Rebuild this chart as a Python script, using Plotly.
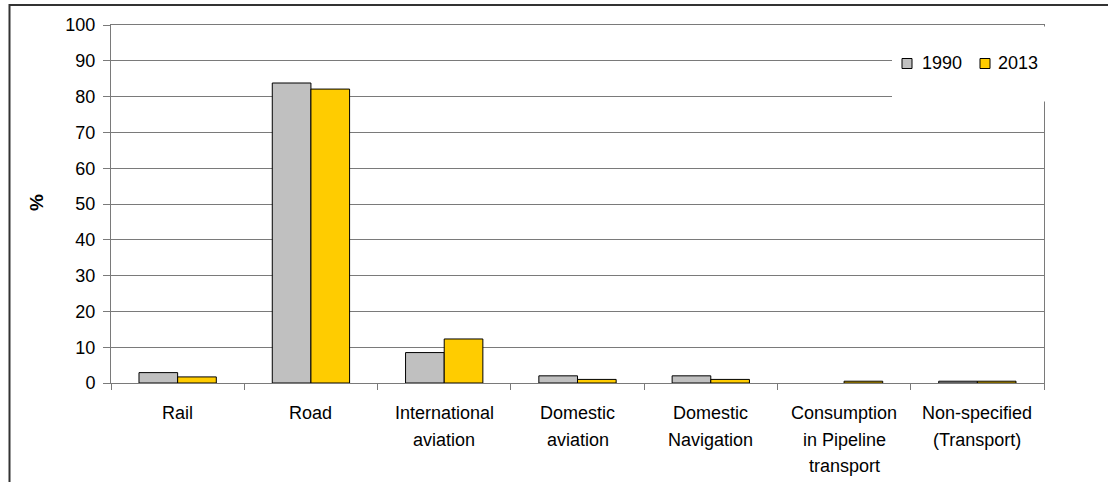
import plotly.graph_objects as go

categories = ["Rail", "Road", "International aviation", "Domestic aviation",
              "Domestic Navigation", "Consumption in Pipeline transport",
              "Non-specified (Transport)"]
label_lines = [["Rail"], ["Road"], ["International", "aviation"], ["Domestic", "aviation"],
               ["Domestic", "Navigation"], ["Consumption", "in Pipeline", "transport"],
               ["Non-specified", "(Transport)"]]
series_names = ["1990", "2013"]
values_1990 = [2.9, 83.8, 8.5, 2.0, 2.0, None, 0.5]
values_2013 = [1.7, 82.1, 12.3, 1.0, 1.0, 0.5, 0.5]
series_colors = ["#C0C0C0", "#FFCC00"]
y_ticks = list(range(0, 101, 10))

W, H = 1108, 482
L, R, T, B = 111, 1044, 25, 383
PW, PH = R - L, B - T

def px(x):
    return (x - L) / PW

def py(y):
    return (B - y) / PH

FONT = "Liberation Sans, Arial, sans-serif"
GRID = "#7a7a7a"

fig = go.Figure()
for name, vals, col in zip(series_names, [values_1990, values_2013], series_colors):
    fig.add_trace(go.Bar(x=categories, y=vals, name=name, marker_color=col,
                         marker_line=dict(color="black", width=1), showlegend=False))

fig.update_layout(
    width=W, height=H,
    margin=dict(l=L, r=W - R, t=T, b=H - B),
    paper_bgcolor="white", plot_bgcolor="white",
    barmode="group", bargap=0.42, bargroupgap=0,
    font=dict(family=FONT, size=18, color="black"),
    showlegend=False,
)
fig.update_yaxes(range=[0, 100], tickvals=y_ticks, showgrid=True, gridcolor=GRID, gridwidth=1,
                 showline=True, linecolor=GRID, linewidth=1, mirror=True,
                 ticks="outside", ticklen=7, tickcolor=GRID,
                 tickfont=dict(size=18, color="black"), ticklabelstandoff=4, zeroline=False)
fig.update_xaxes(showline=True, linecolor=GRID, linewidth=1, mirror=True,
                 ticks="outside", ticklen=6, tickcolor=GRID, tickson="boundaries",
                 showticklabels=False, showgrid=False)

# category labels
for cat, lines in zip(categories, label_lines):
    for i, line in enumerate(lines):
        fig.add_annotation(x=cat, xref="x", y=0, yref="paper", text=line, showarrow=False,
                           yanchor="middle", xanchor="center", yshift=-(30 + 26.7 * i),
                           font=dict(size=18, color="black", family=FONT))

# y title
fig.add_annotation(x=px(36), y=py(203), xref="paper", yref="paper", text="<b>%</b>",
                   textangle=-90, showarrow=False, xanchor="center", yanchor="middle",
                   font=dict(size=19, color="black", family=FONT))

# outer border
fig.add_shape(type="path", xref="paper", yref="paper",
              path=f"M {px(9.5)},{py(490)} L {px(9.5)},{py(5)} L {px(1115)},{py(5)}",
              line=dict(color="#333333", width=2), layer="above")

# legend background
fig.add_shape(type="rect", xref="paper", yref="paper",
              x0=px(892), x1=px(1047), y0=py(101.5), y1=py(26.5),
              fillcolor="white", line=dict(width=0), layer="above")

# legend entries
leg_sq_x = [902, 980]
leg_tx_x = [920, 996]
for name, col, sx, tx in zip(series_names, series_colors, leg_sq_x, leg_tx_x):
    fig.add_shape(type="rect", xref="paper", yref="paper",
                  x0=px(sx), x1=px(sx + 10), y0=py(68.5), y1=py(58.5),
                  fillcolor=col, line=dict(color="black", width=1), layer="above")
    fig.add_annotation(x=px(tx), y=py(63), xref="paper", yref="paper", text=name,
                       showarrow=False, xanchor="left", yanchor="middle",
                       font=dict(size=18, color="black", family=FONT))

fig.write_html("out.html")
